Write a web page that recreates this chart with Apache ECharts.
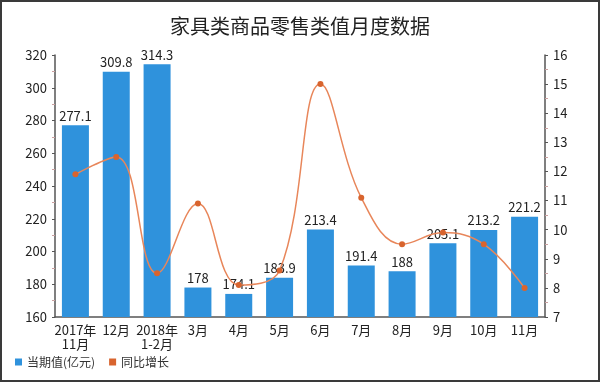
<!DOCTYPE html>
<html><head><meta charset="utf-8">
<script src="https://cdn.jsdelivr.net/npm/echarts@6/dist/echarts.min.js"></script>
<style>
html,body{margin:0;padding:0;background:#fff;}
#c{width:600px;height:382px;box-sizing:border-box;border:2px solid #3a3a3a;}
</style></head><body>
<div id="c"></div>
<script>
var categories = ['2017年\n11月','12月','2018年\n1-2月','3月','4月','5月','6月','7月','8月','9月','10月','11月'];
var barValues = [277.1,309.8,314.3,178,174.1,183.9,213.4,191.4,188,205.1,213.2,221.2];
var growthValues = [11.9,12.5,8.5,10.9,8.1,8.6,15.0,11.1,9.5,9.9,9.5,8.0];
var leftTicks = {min:160,max:320,interval:20};
var rightTicks = {min:7,max:16,interval:1};

var font = '"Noto Sans CJK SC", "Noto Sans", sans-serif';
var chart = echarts.init(document.getElementById('c'));
var axisCommon = {
  axisLine:{show:true,lineStyle:{color:'#555',width:1.5}},
  axisTick:{show:true,length:3,lineStyle:{color:'#555'}},
  minorTick:{show:true,splitNumber:2,length:3,lineStyle:{color:'#c9a0a0'}},
  splitLine:{show:false},
  axisLabel:{color:'#222',fontSize:13,fontFamily:font}
};
chart.setOption({
  backgroundColor:'#fff',
  animation:false,
  title:{text:'家具类商品零售类值月度数据',left:'center',top:9,
    textStyle:{fontSize:20,fontWeight:'normal',color:'#222',fontFamily:font}},
  legend:{left:8,bottom:7,itemWidth:7,itemHeight:7,itemGap:14,
    textStyle:{fontSize:12,color:'#333',fontFamily:font},
    data:[{name:'当期值(亿元)',icon:'rect'},{name:'同比增长',icon:'rect'}]},
  grid:{left:53,right:53,top:53,bottom:63},
  xAxis:{type:'category',data:categories,
    axisLine:{lineStyle:{color:'#555',width:1.5}},
    axisTick:{show:false},
    axisLabel:{color:'#222',fontSize:13,fontFamily:font,interval:0,lineHeight:14,margin:6}},
  yAxis:[
    Object.assign({type:'value',min:leftTicks.min,max:leftTicks.max,interval:leftTicks.interval},axisCommon),
    Object.assign({type:'value',min:rightTicks.min,max:rightTicks.max,interval:rightTicks.interval,position:'right'},axisCommon)
  ],
  series:[
    {name:'当期值(亿元)',type:'bar',data:barValues,barWidth:27,
      itemStyle:{color:'#2f92dc'},
      label:{show:true,position:'top',distance:3,color:'#222',fontSize:13,fontFamily:font}},
    {name:'同比增长',type:'line',yAxisIndex:1,data:growthValues,smooth:0.4,
      symbol:'circle',symbolSize:6,
      lineStyle:{color:'#e8865a',width:1.5},
      itemStyle:{color:'#d8642e'}}
  ]
});
</script>
</body></html>
